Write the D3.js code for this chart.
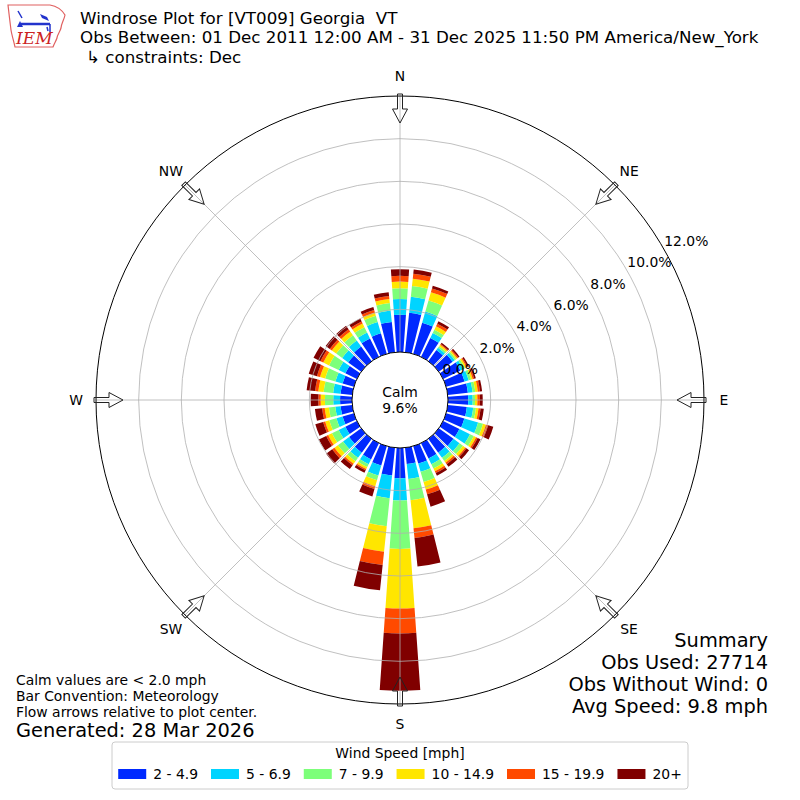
<!DOCTYPE html>
<html>
<head>
<meta charset="utf-8">
<script src="https://cdn.jsdelivr.net/npm/d3@7"></script>
<style>
  body { margin: 0; background: #fff; }
  svg { font-family: "DejaVu Sans", sans-serif; }
</style>
</head>
<body>
<svg id="chart" width="800" height="800"></svg>
<script>
// direction bins (degrees, meteorological: wind from)
const directions = [0, 10, 20, 30, 40, 50, 60, 70, 80, 90, 100, 110,
  120, 130, 140, 150, 160, 170, 180, 190, 200, 210, 220, 230,
  240, 250, 260, 270, 280, 290, 300, 310, 320, 330, 340, 350];

const speedBins = ["2 - 4.9", "5 - 6.9", "7 - 9.9", "10 - 14.9", "15 - 19.9", "20+"];
const binColors = ["#0029ff", "#00d4ff", "#7dff7a", "#ffe600", "#ff4a00", "#800000"];

// percent of obs per direction, one array per speed bin
const spd2to5 = [1.75, 1.86, 1.52, 0.99, 0.65, 0.80, 0.90, 0.90, 0.95, 0.95, 0.90, 0.89,
  0.85, 0.85, 0.80, 0.80, 0.85, 0.77, 1.42, 1.31, 0.94, 0.85, 0.80, 0.70,
  0.60, 0.55, 0.55, 0.56, 0.55, 0.55, 0.60, 0.75, 0.85, 0.96, 1.00, 1.43];
const spd5to7 = [0.73, 0.76, 0.54, 0.26, 0.13, 0.12, 0.15, 0.20, 0.22, 0.21, 0.30, 0.67,
  0.55, 0.35, 0.30, 0.30, 0.40, 0.70, 1.04, 1.07, 0.49, 0.25, 0.30, 0.35,
  0.35, 0.30, 0.25, 0.32, 0.35, 0.35, 0.35, 0.35, 0.35, 0.31, 0.55, 0.54];
const spd7to10 = [0.51, 0.50, 0.54, 0.17, 0.09, 0.08, 0.09, 0.12, 0.13, 0.11, 0.13, 0.24,
  0.20, 0.20, 0.18, 0.22, 0.50, 1.00, 2.27, 1.32, 0.23, 0.15, 0.20, 0.30,
  0.35, 0.35, 0.30, 0.39, 0.45, 0.50, 0.50, 0.35, 0.30, 0.28, 0.31, 0.35];
const spd10to15 = [0.31, 0.35, 0.40, 0.18, 0.08, 0.07, 0.08, 0.08, 0.12, 0.11, 0.12, 0.14,
  0.12, 0.13, 0.10, 0.15, 0.37, 1.33, 2.79, 1.20, 0.30, 0.10, 0.15, 0.20,
  0.20, 0.20, 0.20, 0.20, 0.25, 0.25, 0.30, 0.25, 0.22, 0.19, 0.15, 0.19];
const spd15to20 = [0.27, 0.23, 0.19, 0.13, 0.05, 0.06, 0.06, 0.07, 0.10, 0.12, 0.10, 0.11,
  0.08, 0.07, 0.09, 0.09, 0.23, 0.45, 1.17, 0.63, 0.13, 0.07, 0.08, 0.13,
  0.10, 0.10, 0.12, 0.11, 0.15, 0.15, 0.15, 0.12, 0.13, 0.11, 0.13, 0.14];
const spd20plus = [0.31, 0.20, 0.13, 0.13, 0.07, 0.07, 0.07, 0.08, 0.10, 0.13, 0.15, 0.25,
  0.15, 0.15, 0.15, 0.14, 0.60, 1.35, 2.69, 1.19, 0.36, 0.13, 0.22, 0.35,
  0.38, 0.38, 0.34, 0.36, 0.40, 0.40, 0.36, 0.24, 0.20, 0.15, 0.14, 0.18];

const ringTicks = [0, 2, 4, 6, 8, 10, 12];
const compassLabels = ["N", "NE", "E", "SE", "S", "SW", "W", "NW"];
const compassAngles = [0, 45, 90, 135, 180, 225, 270, 315];
const calmPct = 9.6;

const titleLines = [
  "Windrose Plot for [VT009] Georgia\u00a0\u00a0VT",
  "Obs Between: 01 Dec 2011 12:00 AM - 31 Dec 2025 11:50 PM America/New_York",
  "\u21b3 constraints: Dec"
];
const noteLines = ["Calm values are < 2.0 mph", "Bar Convention: Meteorology",
  "Flow arrows relative to plot center."];
const generatedText = "Generated: 28 Mar 2026";
const summaryLines = ["Summary", "Obs Used: 27714", "Obs Without Wind: 0", "Avg Speed: 9.8 mph"];

const svg = d3.select("#chart");
const cx = 400, cy = 400;
const r = d3.scaleLinear().domain([0, 12]).range([48, 304]);
const ang = d3.scaleLinear().domain([0, 360]).range([0, 2 * Math.PI]);
const halfWidth = 4; // degrees each side of bin centre

const series = [spd2to5, spd5to7, spd7to10, spd10to15, spd15to20, spd20plus];
const keys = speedBins;
const rows = directions.map((dir, i) => {
  const row = { dir: dir };
  keys.forEach((k, j) => { row[k] = series[j][i]; });
  return row;
});
const stacked = d3.stack().keys(keys)(rows);

const arc = d3.arc();
const rose = svg.append("g").attr("transform", `translate(${cx},${cy})`);

// bars
rose.selectAll("g.layer")
  .data(stacked)
  .enter()
  .append("g")
  .attr("class", "layer")
  .attr("fill", (d, i) => binColors[i])
  .selectAll("path")
  .data(d => d)
  .enter()
  .append("path")
  .attr("d", d => arc({
    innerRadius: r(d[0]),
    outerRadius: r(d[1]),
    startAngle: ang(d.data.dir - halfWidth),
    endAngle: ang(d.data.dir + halfWidth)
  }));

// grid on top of the bars (matplotlib default)
rose.selectAll("circle.ring")
  .data(ringTicks.filter(t => t > 0 && t < 12))
  .enter()
  .append("circle")
  .attr("r", d => r(d))
  .attr("fill", "none")
  .attr("stroke", "#b0b0b0")
  .attr("stroke-width", 0.8);

rose.selectAll("line.spoke")
  .data(compassAngles)
  .enter()
  .append("line")
  .attr("x1", d => r(0) * Math.sin(ang(d)))
  .attr("y1", d => -r(0) * Math.cos(ang(d)))
  .attr("x2", d => r(12) * Math.sin(ang(d)))
  .attr("y2", d => -r(12) * Math.cos(ang(d)))
  .attr("stroke", "#b0b0b0")
  .attr("stroke-width", 0.8);

rose.append("circle")
  .attr("r", r(12))
  .attr("fill", "none")
  .attr("stroke", "black")
  .attr("stroke-width", 1);

rose.append("circle")
  .attr("r", r(0))
  .attr("fill", "white")
  .attr("stroke", "black")
  .attr("stroke-width", 1);

// flow arrows, drawn pointing at the centre
const arrowPts = [[-2.5, -306], [2.5, -306], [2.5, -291], [7.5, -291], [0, -277], [-7.5, -291], [-2.5, -291]];
rose.selectAll("path.arrow")
  .data(compassAngles)
  .enter()
  .append("path")
  .attr("d", d3.line()(arrowPts) + "Z")
  .attr("transform", d => `rotate(${d})`)
  .attr("fill", "none")
  .attr("stroke", "#222")
  .attr("stroke-width", 1);

// compass labels
rose.selectAll("text.compass")
  .data(compassLabels)
  .enter()
  .append("text")
  .attr("x", (d, i) => 324 * Math.sin(ang(compassAngles[i])))
  .attr("y", (d, i) => -324 * Math.cos(ang(compassAngles[i])))
  .attr("text-anchor", "middle")
  .attr("dominant-baseline", "central")
  .style("font-size", "13.9px")
  .text(d => d);

// ring labels
rose.selectAll("text.rlabel")
  .data(ringTicks)
  .enter()
  .append("text")
  .attr("x", d => r(d) * Math.sin(ang(60)) + 1)
  .attr("y", d => -r(d) * Math.cos(ang(60)) - 2)
  .style("font-size", "13.9px")
  .text(d => d.toFixed(1) + "%");

rose.append("text")
  .attr("y", -3)
  .attr("text-anchor", "middle")
  .style("font-size", "13.9px")
  .text("Calm");
rose.append("text")
  .attr("y", 13)
  .attr("text-anchor", "middle")
  .style("font-size", "13.9px")
  .text(calmPct.toFixed(1) + "%");

// header
svg.selectAll("text.title")
  .data(titleLines)
  .enter()
  .append("text")
  .attr("x", (d, i) => i === 2 ? 86 : 80)
  .attr("y", (d, i) => 23.5 + i * 19.5)
  .style("font-size", "16.7px")
  .text(d => d);

// IEM logo (rough)
const logo = svg.append("g");
logo.append("path")
  .attr("d", "M8,5 L50,5 C56,6 62,10 65,15 C64,20 61,24 61,28 C60,32 57,35 57,38 C56,41 54,44 53,47 L15,47 C14,42 12,36 11,30 C10,22 9,14 8,5 Z")
  .attr("fill", "white")
  .attr("stroke", "#e06060")
  .attr("stroke-width", 1.2);
logo.append("line")
  .attr("x1", 21).attr("y1", 24).attr("x2", 50).attr("y2", 24)
  .attr("stroke", "#2233cc").attr("stroke-width", 2.5);
logo.append("path")
  .attr("d", "M40,14 L47,17 L49,21 L42,18 Z")
  .attr("fill", "#2233cc");
logo.append("path")
  .attr("d", "M18,11 L22,18 M50,24 L50,32 M47,27 L48,31")
  .attr("fill", "none")
  .attr("stroke", "#2233cc")
  .attr("stroke-width", 1.5);
logo.append("path")
  .attr("d", "M17,27 L20,21 L23,27 Z")
  .attr("fill", "#2233cc");
logo.append("text")
  .attr("x", 16).attr("y", 44)
  .style("font-family", "'DejaVu Serif', serif")
  .style("font-style", "italic")
  .style("font-size", "17px")
  .attr("fill", "#cc2222")
  .text("IEM");

// notes, bottom left
svg.selectAll("text.note")
  .data(noteLines)
  .enter()
  .append("text")
  .attr("x", 16)
  .attr("y", (d, i) => 685 + i * 16)
  .style("font-size", "13.9px")
  .text(d => d);
svg.append("text")
  .attr("x", 16)
  .attr("y", 737)
  .style("font-size", "19.4px")
  .text(generatedText);

// summary, bottom right
svg.selectAll("text.summary")
  .data(summaryLines)
  .enter()
  .append("text")
  .attr("x", 768)
  .attr("y", (d, i) => 647 + i * 22)
  .attr("text-anchor", "end")
  .style("font-size", "19.4px")
  .text(d => d);

// legend
const legend = svg.append("g");
legend.append("rect")
  .attr("x", 112).attr("y", 742)
  .attr("width", 576).attr("height", 47)
  .attr("rx", 3)
  .attr("fill", "white")
  .attr("stroke", "#cccccc");
legend.append("text")
  .attr("x", 400).attr("y", 758)
  .attr("text-anchor", "middle")
  .style("font-size", "13.9px")
  .text("Wind Speed [mph]");

const items = legend.selectAll("g.item")
  .data(speedBins)
  .enter()
  .append("g");
items.append("rect")
  .attr("width", 28).attr("height", 10)
  .attr("y", 769)
  .attr("fill", (d, i) => binColors[i]);
const labels = items.append("text")
  .attr("y", 779)
  .style("font-size", "13.9px")
  .text(d => d);

const widths = labels.nodes().map(n => n.getComputedTextLength());
const total = d3.sum(widths) + speedBins.length * (28 + 7) + (speedBins.length - 1) * 13;
let xPos = 400 - total / 2;
items.each(function(d, i) {
  const g = d3.select(this);
  g.select("rect").attr("x", xPos);
  g.select("text").attr("x", xPos + 35);
  xPos += 35 + widths[i] + 13;
});
</script>
</body>
</html>
